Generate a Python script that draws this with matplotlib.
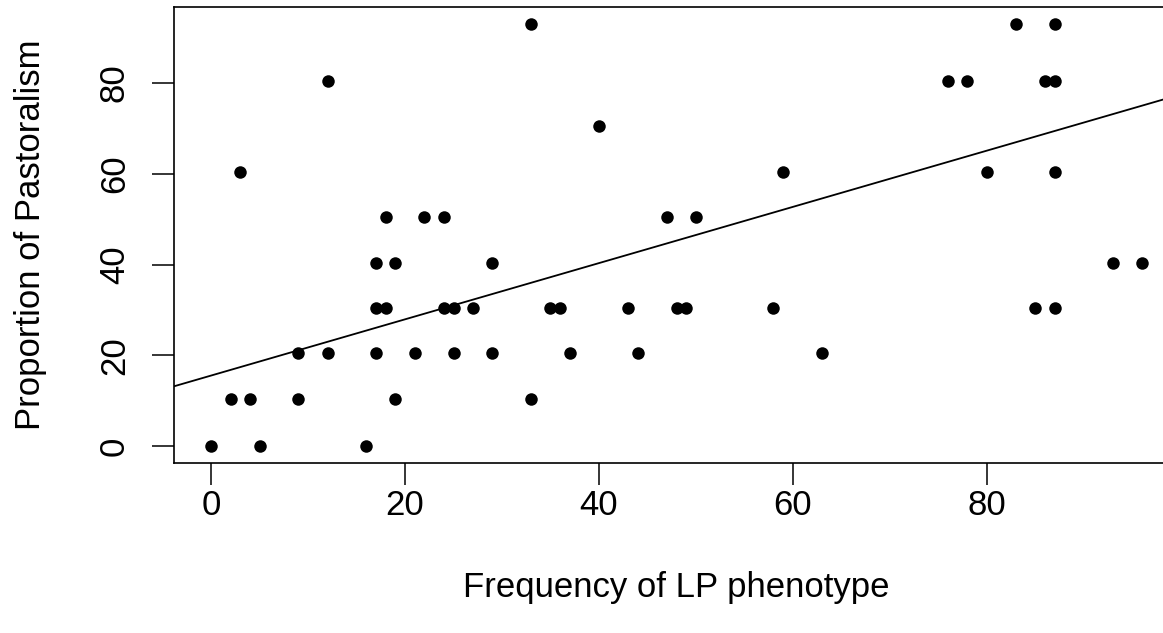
import numpy as np
import matplotlib
matplotlib.use("Agg")
import matplotlib.pyplot as plt

# Frequency of LP phenotype (x) and proportion of pastoralism (y)
lp_freq = [0, 2, 3, 4, 5, 9, 9, 12, 12, 16, 17, 17, 17, 18, 18, 19, 19,
           21, 22, 24, 24, 25, 25, 27, 29, 29, 33, 33, 35, 36, 37, 40,
           43, 44, 47, 48, 49, 50, 58, 59, 63, 76, 78, 80, 83, 85, 86,
           87, 87, 87, 87, 93, 96]
pastoralism = [0, 10.4, 60.4, 10.4, 0, 20.4, 10.4, 80.5, 20.4, 0, 40.4, 30.5, 20.4, 50.5, 30.5, 40.4, 10.4,
               20.4, 50.5, 50.5, 30.5, 30.5, 20.4, 30.5, 40.4, 20.4, 93.0, 10.4, 30.5, 30.5, 20.4, 70.5,
               30.5, 20.4, 50.5, 30.5, 30.5, 50.5, 30.5, 60.4, 20.4, 80.5, 80.5, 60.4, 93.0, 30.5, 80.5,
               93.0, 80.5, 60.4, 30.5, 40.4, 40.4]

# fitted line
fit_intercept = 15.55
fit_slope = 0.619

x_ticks = [0, 20, 40, 60, 80]
y_ticks = [0, 20, 40, 60, 80]

plt.rcParams['font.family'] = ['Liberation Sans', 'DejaVu Sans']
fs = 25

fig = plt.figure(figsize=(11.63, 6.33), dpi=100)
# plot box runs past the right edge of the image, as in the original
ax = fig.add_axes([174 / 1163, (633 - 463) / 633, (1179 - 174) / 1163, (463 - 7) / 633])

x = np.array(lp_freq, dtype=float)
y = np.array(pastoralism, dtype=float)
ax.plot(x, y, 'o', color='black', markersize=9, markeredgewidth=0)

# abline across the whole panel
ax.axline((0, fit_intercept), slope=fit_slope, color='black', linewidth=1.3)

xr = x.max() - x.min()
yr = y.max() - y.min()
ax.set_xlim(x.min() - 0.04 * xr, x.max() + 0.04 * xr)
ax.set_ylim(y.min() - 0.04 * yr, y.max() + 0.04 * yr)

ax.set_xticks(x_ticks)
ax.set_yticks(y_ticks)
ax.tick_params(axis='both', direction='out', length=15.5, width=1.1,
               labelsize=fs, color='black')
ax.tick_params(axis='x', pad=3)
ax.tick_params(axis='y', pad=15.6)
for lab in ax.get_yticklabels():
    lab.set_rotation(90)
    lab.set_va('center')

for sp in ax.spines.values():
    sp.set_linewidth(1.2)

ax.set_xlabel("Frequency of LP phenotype", fontsize=fs)
ax.set_ylabel("Proportion of Pastoralism", fontsize=fs)
ax.xaxis.set_label_coords(0.5, -0.2368)
ax.yaxis.set_label_coords(-0.1264, 0.5)

fig.savefig("out.png", dpi=100, facecolor='white')
